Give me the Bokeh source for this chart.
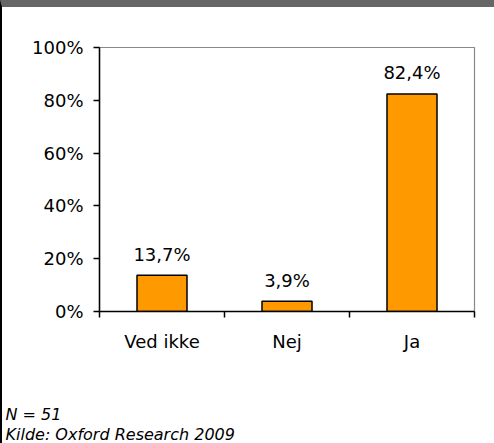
from bokeh.plotting import figure
from bokeh.layouts import column
from bokeh.models import (Range1d, FixedTicker, PrintfTickFormatter,
                          ColumnDataSource)
from bokeh.core.properties import value
from bokeh.embed import file_html
from bokeh.resources import INLINE

categories = ["Ved ikke", "Nej", "Ja"]
values = [13.7, 3.9, 82.4]
y_ticks = [0, 20, 40, 60, 80, 100]
notes = ["N = 51", "Kilde: Oxford Research 2009"]

FONT = "DejaVu Sans"

xs = [i + 0.5 for i in range(len(categories))]
labels = [f"{v:.1f}".replace(".", ",") + "%" for v in values]
src = ColumnDataSource(dict(x=xs, top=values, label=labels))

p = figure(width=492, height=376, output_backend="svg", toolbar_location=None,
           x_range=Range1d(0, len(categories)), y_range=Range1d(0, 100),
           min_border_left=97, min_border_right=20, min_border_top=40,
           min_border_bottom=72, tools="")
p.background_fill_color = "white"
p.border_fill_color = "white"
p.outline_line_color = "#888888"
p.outline_line_width = 1.2
p.grid.visible = False

p.vbar(x="x", top="top", width=0.4, source=src, fill_color="#FF9900",
       line_color="black", line_width=1.5)
p.text(x="x", y="top", text="label", source=src, text_align="center",
       text_baseline="alphabetic", y_offset=-21, text_font=value(FONT),
       text_font_size="18px", text_color="black")

xa = p.xaxis[0]
xa.ticker = FixedTicker(ticks=xs, minor_ticks=list(range(len(categories) + 1)))
xa.major_label_overrides = {x: c for x, c in zip(xs, categories)}
xa.major_tick_out = 0
xa.major_tick_in = 0
xa.minor_tick_out = 6
xa.minor_tick_in = 0
xa.minor_tick_line_color = "black"
xa.axis_line_color = "black"
xa.axis_line_width = 1.5
xa.minor_tick_line_width = 1.5
xa.major_label_standoff = 13
xa.major_label_text_font = FONT
xa.major_label_text_font_size = "18px"
xa.major_label_text_color = "black"

ya = p.yaxis[0]
ya.ticker = FixedTicker(ticks=y_ticks, minor_ticks=[])
ya.formatter = PrintfTickFormatter(format="%d%%")
ya.major_tick_out = 6
ya.major_tick_in = 0
ya.major_tick_line_color = "black"
ya.major_tick_line_width = 1.5
ya.axis_line_color = "black"
ya.axis_line_width = 1.5
ya.major_label_standoff = 10
ya.major_label_text_font = FONT
ya.major_label_text_font_size = "18px"
ya.major_label_text_color = "black"

# footnote strip
foot = figure(width=492, height=60, output_backend="svg", toolbar_location=None,
              x_range=Range1d(0, 492), y_range=Range1d(60, 0),
              x_axis_location=None, y_axis_location=None, min_border=0, tools="")
foot.outline_line_color = None
foot.grid.visible = False
foot.background_fill_color = "white"
foot.border_fill_color = "white"
foot.text(x=[3, 3], y=[31, 51], text=notes, text_font=value(FONT),
          text_font_style="italic", text_font_size="16px", text_color="black",
          text_baseline="alphabetic", text_align="left")

for fig in (p, foot):
    if "frame_align" in fig.properties():
        fig.frame_align = False

layout = column(p, foot, spacing=0,
                styles={"border-top": "7px solid #666666",
                        "border-left": "2px solid black"})

open("out.html", "w").write(file_html(layout, INLINE))
